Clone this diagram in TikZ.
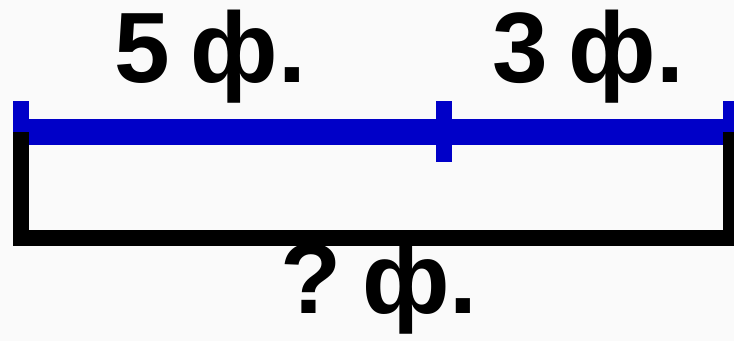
\documentclass[tikz,border=0pt]{standalone}
\usepackage{fontspec}
\setmainfont{Liberation Sans}
\definecolor{segblue}{HTML}{0000C8}
\definecolor{pagebg}{HTML}{FAFAFA}

\begin{document}
\begin{tikzpicture}[x=1pt, y=-1pt,
  seg/.style={line width=26pt, color=segblue},
  segtick/.style={line width=16pt, color=segblue},
  total/.style={line width=16pt, color=black, line join=miter},
  lbl/.style={font=\fontsize{100}{102}\selectfont\bfseries, inner sep=0pt, anchor=base}
]
\fill[pagebg] (0,0) rectangle (734,341);
\useasboundingbox (0,0) rectangle (734,341);

\coordinate (a) at (21,132);
\coordinate (b) at (444,132);
\coordinate (c) at (731,132);
\coordinate (end) at (740,132);

% segments
\draw[seg] (13,132) -- (end);
\foreach \p in {a,b,c}
  \draw[segtick] ([yshift=31pt]\p) -- ([yshift=-30pt]\p);

% bracket for the total
\draw[total] (a) |- ([yshift=-106pt]b) -| (c);

\node[lbl] (five) at (210,82) {5\hspace{0.21em}ф.};
\node[lbl] (three) at (588,82) {3\hspace{0.21em}ф.};
\node[lbl] (sum) at (379,313) {?\hspace{0.21em}ф.};
\end{tikzpicture}
\end{document}
